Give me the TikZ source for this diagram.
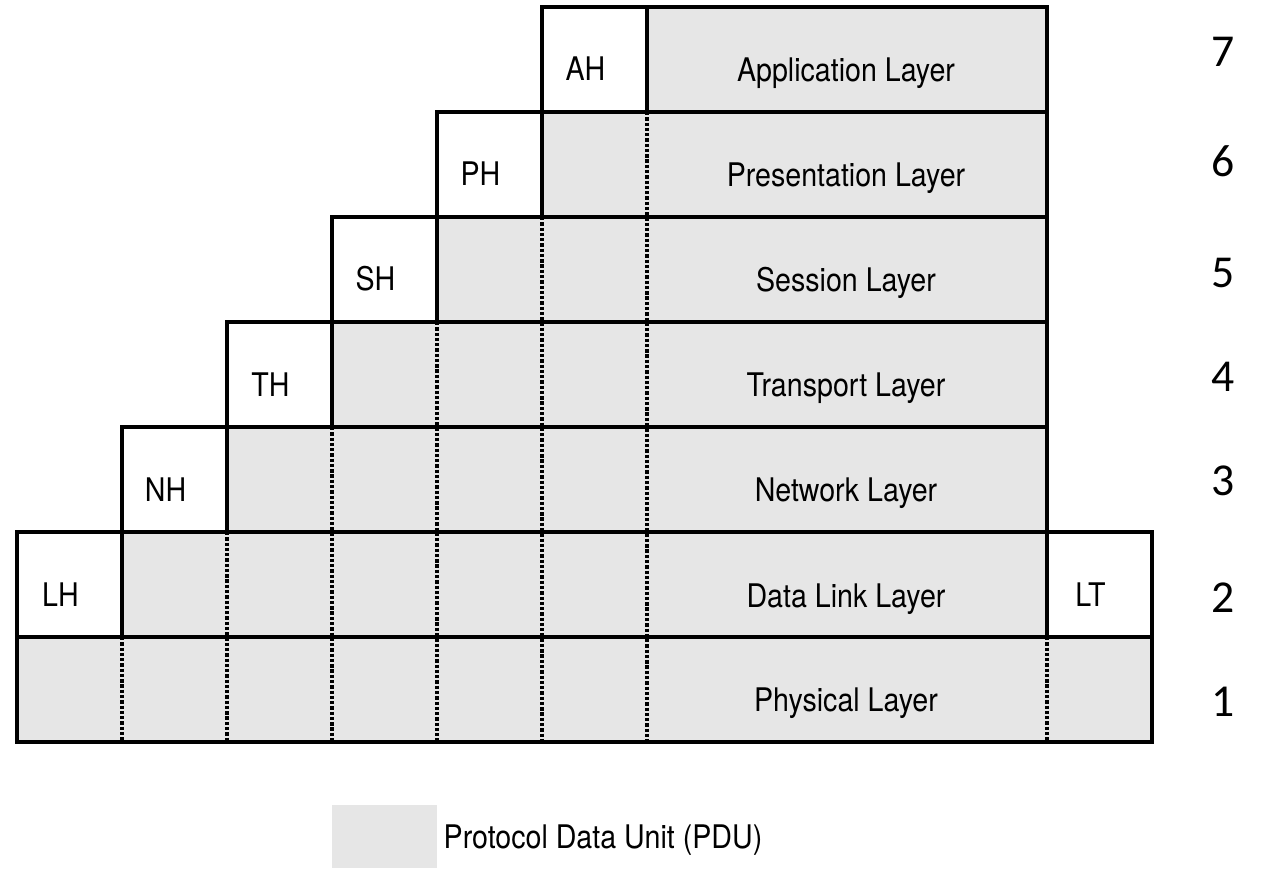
\documentclass[tikz,border=0pt]{standalone}
\usepackage{fontspec}
\setmainfont{TeX Gyre Heros}[FakeStretch=0.88]
\newfontfamily\numfont{Carlito}
\usetikzlibrary{positioning}
\definecolor{pdugray}{RGB}{230,230,230}

\begin{document}
\begin{tikzpicture}[
  x=0.02cm, y=-0.02cm,
  every node/.style = {shape=rectangle, inner sep=0pt, font=\fontsize{18.5}{22}\selectfont},
  row/.style  = {draw, fill=pdugray, line width=2.3pt},
  hdr/.style  = {draw, fill=white, line width=2.3pt, minimum width=2.1cm, minimum height=2.1cm,
                 text height=0.86cm, text depth=0pt, execute at end node=\hspace{0.36cm}},
  lbl/.style  = {text height=0.47cm, text depth=0pt},
  sep/.style  = {line width=2.3pt, dash pattern=on 1.9pt off 1.1pt},
  num/.style  = {font=\numfont\fontsize{26}{30}\selectfont, text height=0.58cm, text depth=0pt},
  key/.style  = {fill=pdugray, minimum width=2.1cm, minimum height=1.26cm}
    ]
  \useasboundingbox (0,0) rectangle (1268,872);

  % layer rows (PDU part)
  \draw[row] (647,7)   rectangle (1047,112);
  \draw[row] (542,112) rectangle (1047,217);
  \draw[row] (437,217) rectangle (1047,322);
  \draw[row] (332,322) rectangle (1047,427);
  \draw[row] (227,427) rectangle (1047,532);
  \draw[row] (122,532) rectangle (1047,637);
  \draw[row] (17,637)  rectangle (1152,742);

  % dotted borders between encapsulated parts
  \foreach \x/\y in {647/112, 542/217, 437/322, 332/427, 227/532, 122/637, 1047/637}
    \draw[sep] (\x,\y) -- (\x,742);

  % headers and trailer
  \node[hdr] (ah) at (594.5,59.5)  {AH};
  \node[hdr] (ph) at (489.5,164.5) {PH};
  \node[hdr] (sh) at (384.5,269.5) {SH};
  \node[hdr] (th) at (279.5,374.5) {TH};
  \node[hdr] (nh) at (174.5,479.5) {NH};
  \node[hdr] (lh) at (69.5,584.5)  {LH};
  \node[hdr] (lt) at (1099.5,584.5) {LT};

  % layer names
  \node[lbl] (app)  at (846,70)  {Application Layer};
  \node[lbl] (pres) at (846,175) {Presentation Layer};
  \node[lbl] (sess) at (846,280) {Session Layer};
  \node[lbl] (trans) at (846,385) {Transport Layer};
  \node[lbl] (net)  at (846,490) {Network Layer};
  \node[lbl] (link) at (846,596) {Data Link Layer};
  \node[lbl] (phys) at (846,700) {Physical Layer};

  % layer numbers
  \node[num] (n7) at (1223,52)  {7};
  \node[num] (n6) at (1223,162) {6};
  \node[num] (n5) at (1223,273) {5};
  \node[num] (n4) at (1223,377) {4};
  \node[num] (n3) at (1223,481) {3};
  \node[num] (n2) at (1223,598) {2};
  \node[num] (n1) at (1223,702) {1};

  % legend
  \node[key] (key) at (384.5,836.5) {};
  \node[lbl, right=0.12cm of key] (keytext) {Protocol Data Unit (PDU)};
\end{tikzpicture}
\end{document}
